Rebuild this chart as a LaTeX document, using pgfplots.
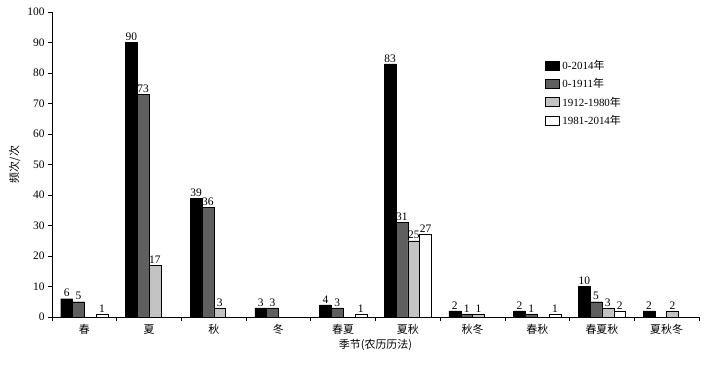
\documentclass[border=0pt]{standalone}
\usepackage{fontspec}
\setmainfont{Liberation Serif}
\newfontfamily\cjk{Noto Sans CJK SC}
\usepackage{pgfplots}
\pgfplotsset{compat=1.18}
\usetikzlibrary{calc}
\definecolor{dgray}{RGB}{95,95,95}
\definecolor{lgray}{RGB}{195,195,195}
\begin{document}
\begin{tikzpicture}
\begin{axis}[name=ax,
  scale only axis, width=647bp, height=305bp,
  ybar=0pt, bar width=11.8bp,
  xmin=-0.5, xmax=9.5, ymin=0, ymax=100,
  axis x line=bottom, axis y line=left, axis line style={-, line width=1pt},
  xtick={-0.5,0.5,...,9.5},
  xticklabels={春,夏,秋,冬,春夏,夏秋,秋冬,春秋,春夏秋,夏秋冬,{}},
  x tick label style={xshift=32.35bp, font=\cjk\fontsize{11}{12}\selectfont},
  ytick={0,10,...,100},
  y tick label style={font=\fontsize{11.5}{12}\selectfont},
  /pgf/number format/assume math mode=true,
  tick align=outside, major tick length=4bp,
  tick style={black, line width=0.8pt},
  xlabel={\cjk 季节(农历历法)}, xlabel style={font=\fontsize{11}{12}\selectfont, yshift=2bp},
  ylabel={\cjk 频次/次}, ylabel style={font=\fontsize{11}{12}\selectfont},
  nodes near coords,
  every node near coord/.append style={font=\fontsize{11.5}{12}\selectfont, black, inner sep=1.5bp},
  legend style={draw=none, fill=none, at={(0.757,0.855)}, anchor=north west,
    font=\fontsize{11}{12}\selectfont, row sep=3.5bp, nodes={inner xsep=3bp}},
  legend cell align=left,
  legend image code/.code={\draw[#1, line width=0.5pt] (0bp,-4.5bp) rectangle (14bp,4.5bp);},
]
\addplot[fill=black, draw=black] coordinates {(0,6) (1,90) (2,39) (3,3) (4,4) (5,83) (6,2) (7,2) (8,10) (9,2)};
\addplot[fill=dgray, draw=black] coordinates {(0,5) (1,73) (2,36) (3,3) (4,3) (5,31) (6,1) (7,1) (8,5) (9,nan)};
\addplot[fill=lgray, draw=black] coordinates {(0,nan) (1,17) (2,3) (3,nan) (4,nan) (5,25) (6,1) (7,nan) (8,3) (9,2)};
\addplot[fill=white, draw=black] coordinates {(0,1) (1,nan) (2,nan) (3,nan) (4,1) (5,27) (6,nan) (7,1) (8,2) (9,nan)};
\legend{{0-2014\cjk 年},{0-1911\cjk 年},{1912-1980\cjk 年},{1981-2014\cjk 年}}
\end{axis}
\pgfresetboundingbox
\path[use as bounding box] ($(ax.south west)+(-52bp,-48bp)$) rectangle ($(ax.south west)+(658bp,317bp)$);
\end{tikzpicture}
\end{document}
